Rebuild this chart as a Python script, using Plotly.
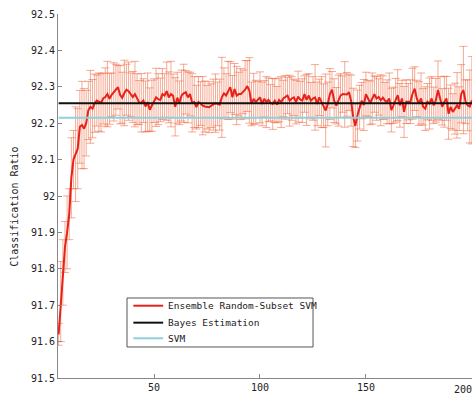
import plotly.graph_objects as go

kernels = list(range(5, 201))
ensemble = [
    91.62, 91.71, 91.79, 91.86, 91.90, 91.95, 92.05, 92.10, 92.115, 92.13,
    92.19, 92.195, 92.185, 92.20, 92.235, 92.245, 92.24, 92.255, 92.262, 92.258,
    92.256, 92.268, 92.272, 92.28, 92.267, 92.278, 92.286, 92.292, 92.299, 92.278,
    92.27, 92.283, 92.292, 92.288, 92.278, 92.272, 92.28, 92.266, 92.257, 92.256,
    92.262, 92.246, 92.258, 92.237, 92.248, 92.262, 92.271, 92.266, 92.264, 92.28,
    92.276, 92.288, 92.271, 92.28, 92.275, 92.245, 92.27, 92.256, 92.276, 92.282,
    92.285, 92.271, 92.28, 92.256, 92.258, 92.244, 92.258, 92.254, 92.248, 92.246,
    92.244, 92.244, 92.248, 92.251, 92.255, 92.253, 92.251, 92.271, 92.282, 92.276,
    92.29, 92.299, 92.271, 92.294, 92.276, 92.28, 92.28, 92.286, 92.292, 92.302,
    92.29, 92.253, 92.267, 92.258, 92.265, 92.271, 92.253, 92.267, 92.258, 92.264,
    92.256, 92.253, 92.262, 92.251, 92.264, 92.258, 92.268, 92.271, 92.276, 92.262,
    92.268, 92.271, 92.258, 92.273, 92.265, 92.262, 92.28, 92.264, 92.276, 92.262,
    92.268, 92.271, 92.253, 92.271, 92.258, 92.248, 92.235, 92.253, 92.28, 92.292,
    92.262, 92.248, 92.262, 92.276, 92.28, 92.279, 92.279, 92.285, 92.262, 92.216,
    92.193, 92.221, 92.244, 92.262, 92.25, 92.28, 92.268, 92.256, 92.268, 92.28,
    92.268, 92.272, 92.263, 92.27, 92.262, 92.259, 92.268, 92.236, 92.249, 92.263,
    92.277, 92.249, 92.268, 92.231, 92.259, 92.259, 92.259, 92.281, 92.295, 92.268,
    92.254, 92.268, 92.245, 92.24, 92.259, 92.254, 92.268, 92.249, 92.263, 92.291,
    92.268, 92.245, 92.259, 92.268, 92.226, 92.245, 92.231, 92.24, 92.249, 92.24,
    92.281, 92.291, 92.259, 92.249, 92.246, 92.263,
]
ensemble_err = [
    0.03, 0.11, 0.09, 0.07, 0.10, 0.07, 0.11, 0.08, 0.13, 0.11,
    0.10, 0.12, 0.11, 0.09, 0.08, 0.10, 0.08, 0.08, 0.07, 0.08,
    0.08, 0.07, 0.08, 0.09, 0.07, 0.06, 0.08, 0.07, 0.06, 0.08,
    0.07, 0.09, 0.07, 0.08, 0.06, 0.07, 0.09, 0.07, 0.06, 0.08,
    0.06, 0.07, 0.08, 0.06, 0.07, 0.06, 0.08, 0.07, 0.06, 0.07,
    0.06, 0.08, 0.07, 0.09, 0.06, 0.08, 0.07, 0.06, 0.07, 0.08,
    0.06, 0.07, 0.06, 0.08, 0.07, 0.06, 0.07, 0.06, 0.08, 0.07,
    0.06, 0.07, 0.06, 0.07, 0.08, 0.06, 0.07, 0.11, 0.07, 0.06,
    0.08, 0.07, 0.06, 0.07, 0.08, 0.06, 0.07, 0.06, 0.08, 0.07,
    0.09, 0.06, 0.07, 0.06, 0.05, 0.07, 0.06, 0.05, 0.07, 0.06,
    0.05, 0.07, 0.06, 0.05, 0.06, 0.07, 0.05, 0.06, 0.05, 0.07,
    0.06, 0.05, 0.06, 0.07, 0.05, 0.06, 0.05, 0.07, 0.06, 0.05,
    0.06, 0.09, 0.06, 0.05, 0.07, 0.06, 0.10, 0.06, 0.07, 0.05,
    0.06, 0.05, 0.07, 0.06, 0.05, 0.09, 0.06, 0.05, 0.07, 0.08,
    0.06, 0.07, 0.06, 0.05, 0.07, 0.06, 0.05, 0.06, 0.07, 0.05,
    0.06, 0.05, 0.07, 0.06, 0.05, 0.06, 0.07, 0.06, 0.05, 0.06,
    0.07, 0.06, 0.05, 0.07, 0.06, 0.05, 0.06, 0.07, 0.06, 0.05,
    0.06, 0.07, 0.05, 0.06, 0.05, 0.07, 0.06, 0.05, 0.06, 0.08,
    0.06, 0.05, 0.07, 0.06, 0.07, 0.06, 0.05, 0.07, 0.09, 0.06,
    0.08, 0.12, 0.06, 0.07, 0.10, 0.12,
]
bayes_value = 92.255
svm_value = 92.215
x_ticks = [50, 100, 150, 200]
x_tick_text = ["50", "100", "150", "200"]
y_ticks = [91.5, 91.6, 91.7, 91.8, 91.9, 92.0, 92.1, 92.2, 92.3, 92.4, 92.5]
y_tick_text = ["91.5", "91.6", "91.7", "91.8", "91.9", "92", "92.1", "92.2", "92.3", "92.4", "92.5"]
series_names = ["Ensemble Random-Subset SVM", "Bayes Estimation", "SVM"]
series_colors = ["#e8221b", "#111111", "#8fd0dc"]

FONT = "DejaVu Sans Mono, Liberation Mono, monospace"

fig = go.Figure()
fig.add_trace(go.Scatter(
    x=kernels, y=ensemble, mode="lines", name=series_names[0],
    line=dict(color=series_colors[0], width=2),
    error_y=dict(type="data", array=ensemble_err, visible=True,
                 color="rgba(238,100,60,0.55)", thickness=1, width=4),
))
fig.add_trace(go.Scatter(
    x=[kernels[0], kernels[-1]], y=[bayes_value, bayes_value], mode="lines",
    name=series_names[1], line=dict(color=series_colors[1], width=2),
))
fig.add_trace(go.Scatter(
    x=[kernels[0], kernels[-1]], y=[svm_value, svm_value], mode="lines",
    name=series_names[2], line=dict(color=series_colors[2], width=2),
))

axis_common = dict(showgrid=False, zeroline=False, showline=True, linecolor="#888888",
                   linewidth=1, ticks="inside", ticklen=4, tickcolor="#888888",
                   automargin=False,
                   tickfont=dict(family=FONT, size=10, color="#222222"))
# the last x label sits flush with the right edge, so it is drawn as an annotation
fig.update_xaxes(range=[4.7, 200.05], tickvals=x_ticks,
                 ticktext=x_tick_text[:-1] + [""], **axis_common)
fig.update_yaxes(range=[91.5, 92.5], tickvals=y_ticks, ticktext=y_tick_text, **axis_common)

# legend drawn manually (box, sample lines, labels)
shapes = [dict(type="rect", xref="paper", yref="paper", x0=0.1667, x1=0.616,
               y0=0.0852, y1=0.2198, line=dict(color="#555555", width=1),
               fillcolor="white", layer="above")]
annotations = []
row_y = [0.1986, 0.152, 0.1091]
for name, color, yy in zip(series_names, series_colors, row_y):
    shapes.append(dict(type="line", xref="paper", yref="paper", x0=0.182, x1=0.254,
                       y0=yy, y1=yy, line=dict(color=color, width=2), layer="above"))
    annotations.append(dict(text=name, x=0.262, y=yy, xref="paper", yref="paper",
                            xanchor="left", yanchor="middle", showarrow=False,
                            font=dict(family=FONT, size=9.5, color="#222222")))

annotations += [
    dict(text=x_tick_text[-1], x=1.0, xref="paper", xshift=2, y=0, yref="paper",
         yshift=-11, xanchor="right", yanchor="middle", showarrow=False,
         font=dict(family=FONT, size=10, color="#222222")),
    dict(text="Number of Kernel", x=246, xref="x", y=-0.068, yref="paper",
         xanchor="center", yanchor="middle", showarrow=False,
         font=dict(family=FONT, size=10, color="#222222")),
    dict(text="Classification Ratio", x=-0.104, xref="paper", y=0.47, yref="paper",
         textangle=-90, xanchor="center", yanchor="middle", showarrow=False,
         font=dict(family=FONT, size=10, color="#222222")),
]

fig.update_layout(
    width=475, height=412,
    margin=dict(l=58, r=3, t=14, b=34),
    plot_bgcolor="white", paper_bgcolor="white",
    font=dict(family=FONT, size=10, color="#222222"),
    showlegend=False,
    shapes=shapes,
    annotations=annotations,
)
fig.write_html(
    "out.html",
    config={"displayModeBar": False},
    post_script="document.body.style.margin='0';document.body.style.overflow='hidden';",
)
